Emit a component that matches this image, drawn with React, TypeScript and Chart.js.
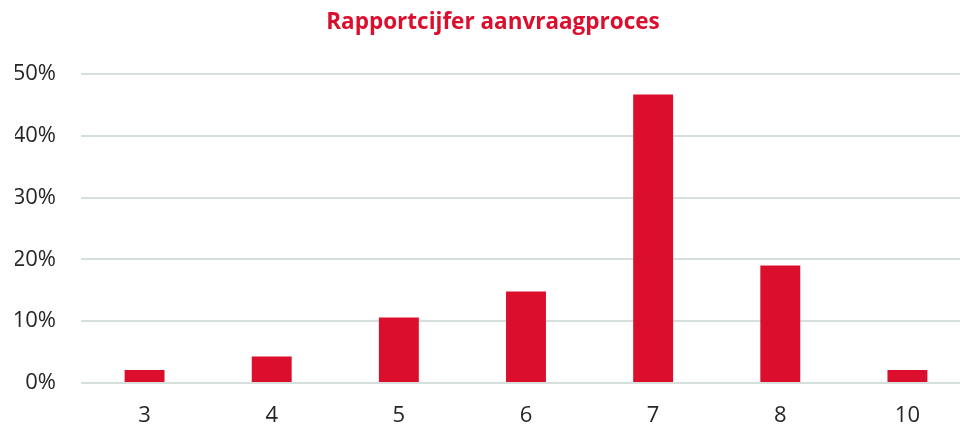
import React, { useEffect, useRef } from "react";
import { Chart, registerables } from "chart.js";

Chart.register(...registerables);

const categories = ["3", "4", "5", "6", "7", "8", "10"];
const percentages = [2.1, 4.3, 10.6, 14.8, 46.7, 19.0, 2.1];
const yTicks = [0, 10, 20, 30, 40, 50];
const titleText = "Rapportcijfer aanvraagproces";

const RED = "#DB0F2D";
const GRID = "#D5E0DD";
const TEXT = "#262626";

export default function App() {
  const ref = useRef<HTMLCanvasElement | null>(null);

  useEffect(() => {
    document.body.style.margin = "0";
    document.body.style.overflow = "hidden";
    const canvas = ref.current;
    if (!canvas) return;
    const chart = new Chart(canvas, {
      type: "bar",
      data: {
        labels: categories,
        datasets: [
          {
            data: percentages,
            backgroundColor: RED,
            borderWidth: 0,
            categoryPercentage: 1,
            barPercentage: 0.314,
          },
        ],
      },
      options: {
        animation: false,
        responsive: false,
        maintainAspectRatio: false,
        layout: { padding: { left: 15, right: 13, top: 0, bottom: 0 } },
        plugins: {
          legend: { display: false },
          tooltip: { enabled: false },
          title: {
            display: true,
            text: titleText,
            color: RED,
            font: { family: "'Open Sans'", size: 22.5, weight: "bold" },
            padding: { top: 9, bottom: 38 },
          },
        },
        scales: {
          x: {
            grid: { display: false, drawTicks: false },
            border: { display: false },
            ticks: {
              color: TEXT,
              font: { family: "'Open Sans'", size: 22 },
              padding: 20,
              maxRotation: 0,
            },
            afterFit: (scale: any) => {
              scale.height = 44;
            },
          },
          y: {
            min: 0,
            max: 50,
            afterBuildTicks: (scale: any) => {
              scale.ticks = yTicks.map((v) => ({ value: v }));
            },
            grid: { color: GRID, lineWidth: 2, drawTicks: false },
            border: { display: false },
            ticks: {
              color: TEXT,
              font: { family: "'Open Sans'", size: 22 },
              padding: 25,
              callback: (v: any) => v + "%",
            },
            afterFit: (scale: any) => {
              scale.width = 66;
            },
          },
        },
      },
    });
    return () => chart.destroy();
  }, []);

  return (
    <div style={{ position: "absolute", left: 0, top: 0, width: 984, height: 427, background: "#fff" }}>
      <canvas ref={ref} width={984} height={427} style={{ display: "block", width: 984, height: 427 }} />
    </div>
  );
}
